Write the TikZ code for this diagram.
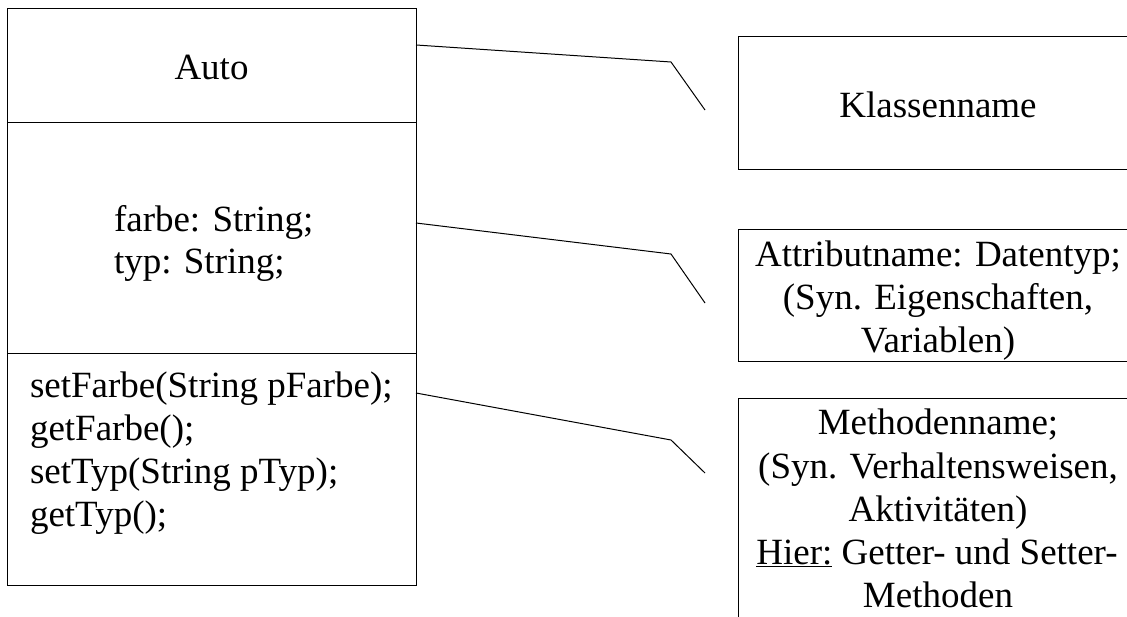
\documentclass[tikz,border=0pt]{standalone}
\usepackage{fontspec}
\setmainfont{Liberation Serif}
\begin{document}
\begin{tikzpicture}[x=1pt,y=-1pt,
  box/.style={draw=black,line width=1pt,rectangle,inner sep=0pt,outer sep=0pt,anchor=north west},
  txt/.style={inner sep=0pt,outer sep=0pt,font=\fontsize{37}{43}\selectfont},
  link/.style={draw=black,line width=1pt,line join=miter}]
\useasboundingbox (0,0) rectangle (1127,617);
\clip (0,0) rectangle (1127,617);
% class box compartments
\node[box,minimum width=409pt,minimum height=114pt] (cname) at (7,9) {};
\node[box,minimum width=409pt,minimum height=231pt] (cattr) at (7,123) {};
\node[box,minimum width=409pt,minimum height=231pt] (cmeth) at (7,354) {};
% class texts
\node[txt,anchor=base] (tauto) at (211.5,80) {Auto};
\node[txt,anchor=base west] (ta1) at (114,231.5) {farbe: String;};
\node[txt,anchor=base west] (ta2) at (114,273.5) {typ: String;};
\node[txt,anchor=base west] (tm1) at (30,397) {setFarbe(String pFarbe);};
\node[txt,anchor=base west] (tm2) at (30,440) {getFarbe();};
\node[txt,anchor=base west] (tm3) at (30,483) {setTyp(String pTyp);};
\node[txt,anchor=base west] (tm4) at (30,526) {getTyp();};
% right boxes
\node[box,minimum width=400pt,minimum height=133pt] (rk) at (738,37) {};
\node[box,minimum width=400pt,minimum height=132pt] (ra) at (738,230) {};
\node[box,minimum width=400pt,minimum height=260pt] (rm) at (738,399) {};
\node[txt,anchor=base] (tk) at (938,117.5) {Klassenname};
\node[txt,anchor=base] (tr1) at (938,267) {Attributname: Datentyp;};
\node[txt,anchor=base] (tr2) at (938,310) {(Syn. Eigenschaften,};
\node[txt,anchor=base] (tr3) at (938,353) {Variablen)};
\node[txt,anchor=base] (tq1) at (938,435) {Methodenname;};
\node[txt,anchor=base] (tq2) at (938,478) {(Syn. Verhaltensweisen,};
\node[txt,anchor=base] (tq3) at (938,521) {Aktivitäten)};
\node[txt,anchor=base] (tq4) at (937,564) {\underline{Hier:} Getter- und Setter-};
\node[txt,anchor=base] (tq5) at (938,607) {Methoden};
% connectors
\coordinate (b1) at (671,62);  \coordinate (e1) at (705,110);
\coordinate (b2) at (671,254); \coordinate (e2) at (705,303);
\coordinate (b3) at (671,440); \coordinate (e3) at (705,473);
\draw[link] ([yshift=-36pt]cname.north east) -- (b1) -- (e1);
\draw[link] ([yshift=-100pt]cattr.north east) -- (b2) -- (e2);
\draw[link] ([yshift=-39pt]cmeth.north east) -- (b3) -- (e3);
\end{tikzpicture}
\end{document}
